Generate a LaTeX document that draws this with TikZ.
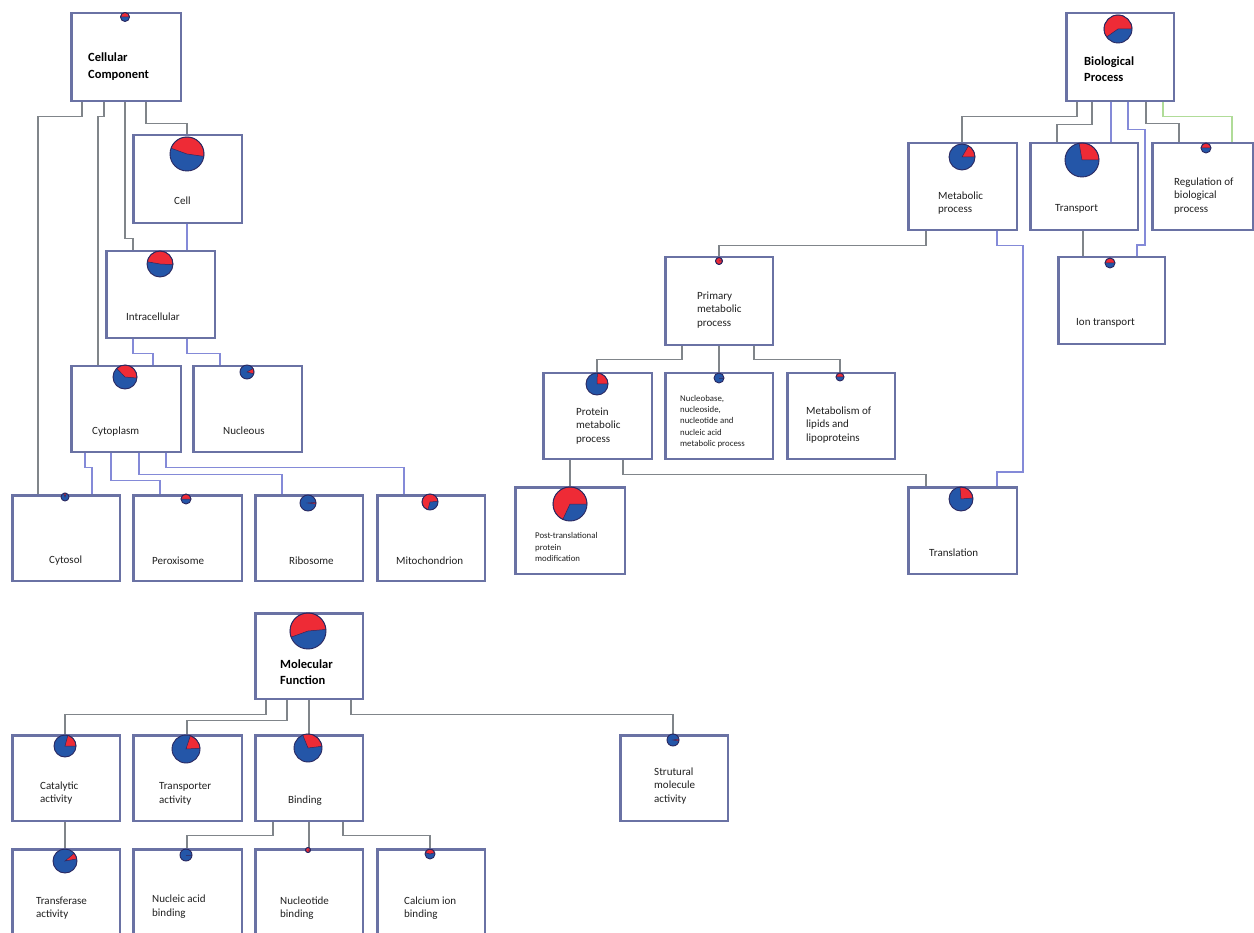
\documentclass[tikz,border=0pt]{standalone}
\usepackage{fontspec}
\setmainfont{Carlito}
\definecolor{piered}{HTML}{EE2B36}
\definecolor{pieblue}{HTML}{2456A8}
\definecolor{pieline}{HTML}{2A2860}
\definecolor{boxline}{HTML}{6A72A4}
\definecolor{grayline}{HTML}{80858A}
\definecolor{blueline}{HTML}{848AD8}
\definecolor{greenline}{HTML}{B0DC98}
\definecolor{txt}{HTML}{202020}
\newcommand\piec[5]{\begin{scope}[shift={(#1,#2)},yscale=-1]
\fill[pieblue] (0,0) circle[radius=#3];
\fill[piered,draw=pieline,line width=0.5pt] (0,0) -- (#4:#3) arc[start angle=#4,end angle=#5,radius=#3] -- cycle;
\draw[pieline,line width=0.9pt] (0,0) circle[radius=#3];
\end{scope}}
\tikzset{
  box/.style={draw=boxline,line width=1.5pt,fill=white,anchor=north west,inner sep=0pt},
  gl/.style={draw=grayline,line width=1.5pt},
  bl/.style={draw=blueline,line width=1.4pt},
  grl/.style={draw=greenline,line width=1.4pt},
  lbl/.style={anchor=west,align=left,inner sep=0pt,text=txt,font=\fontsize{11}{13.5}\selectfont},
  hdr/.style={anchor=west,align=left,inner sep=0pt,text=black,font=\fontsize{12.5}{16.5}\selectfont\bfseries},
  sml/.style={anchor=west,align=left,inner sep=0pt,text=txt,font=\fontsize{8.8}{11.3}\selectfont}
}
\begin{document}
\begin{tikzpicture}[x=1pt,y=-1pt]
\useasboundingbox (0,0) rectangle (1254,933);
\fill[white] (0,0) rectangle (1254,933);
% ---------- boxes ----------
\path
 node[box,minimum width=109pt,minimum height=87pt] (cc) at (71,13) {}
 node[box,minimum width=108pt,minimum height=87pt] (cell) at (133,135) {}
 node[box,minimum width=108pt,minimum height=86pt] (intra) at (106,251) {}
 node[box,minimum width=109pt,minimum height=85pt] (cyto) at (71,366) {}
 node[box,minimum width=108pt,minimum height=85pt] (nucl) at (193,366) {}
 node[box,minimum width=107pt,minimum height=85pt] (cytosol) at (12,495) {}
 node[box,minimum width=108pt,minimum height=85pt] (perox) at (133,495) {}
 node[box,minimum width=107pt,minimum height=85pt] (ribo) at (255,495) {}
 node[box,minimum width=107pt,minimum height=85pt] (mito) at (377,495) {}
 node[box,minimum width=107pt,minimum height=87pt] (bp) at (1066,13) {}
 node[box,minimum width=108pt,minimum height=86pt] (metab) at (908,143) {}
 node[box,minimum width=107pt,minimum height=86pt] (transp) at (1030,143) {}
 node[box,minimum width=100pt,minimum height=86pt] (reg) at (1152,143) {}
 node[box,minimum width=106pt,minimum height=86pt] (ion) at (1058,257) {}
 node[box,minimum width=107pt,minimum height=87pt] (primary) at (665,257) {}
 node[box,minimum width=108pt,minimum height=85pt] (protein) at (543,373) {}
 node[box,minimum width=107pt,minimum height=85pt] (nucleo) at (665,373) {}
 node[box,minimum width=107pt,minimum height=85pt] (lipid) at (787,373) {}
 node[box,minimum width=109pt,minimum height=86pt] (ptm) at (515,487) {}
 node[box,minimum width=108pt,minimum height=86pt] (transl) at (908,487) {}
 node[box,minimum width=107pt,minimum height=85pt] (mf) at (255,613) {}
 node[box,minimum width=107pt,minimum height=85pt] (cat) at (12,735) {}
 node[box,minimum width=108pt,minimum height=85pt] (trsp) at (133,735) {}
 node[box,minimum width=107pt,minimum height=85pt] (bind) at (255,735) {}
 node[box,minimum width=107pt,minimum height=85pt] (strut) at (620,735) {}
 node[box,minimum width=107pt,minimum height=96pt] (transf) at (12,849) {}
 node[box,minimum width=108pt,minimum height=96pt] (nucac) at (133,849) {}
 node[box,minimum width=107pt,minimum height=96pt] (nucleot) at (255,849) {}
 node[box,minimum width=107pt,minimum height=96pt] (calc) at (377,849) {};
% ---------- connectors ----------
\draw[gl] (cc.south -| 82,0) -- ++(0,15) -| (cytosol.north -| 38,0);
\draw[gl] (cc.south -| 104,0) -- ++(0,15) -| (cyto.north -| 98,0);
\draw[gl] (cc.south -| 125,0) -- ++(0,137) -| (intra.north -| 133,0);
\draw[gl] (cc.south -| 146,0) -- ++(0,22) -| (cell.north -| 187,0);
\draw[bl] (cell.south -| 187,0) -- (intra.north -| 187,0);
\draw[bl] (intra.south -| 133,0) -- ++(0,15) -| (cyto.north -| 153,0);
\draw[bl] (intra.south -| 187,0) -- ++(0,15) -| (nucl.north -| 220,0);
\draw[bl] (cyto.south -| 85,0) -- ++(0,15) -| (cytosol.north -| 92,0);
\draw[bl] (cyto.south -| 111,0) -- ++(0,28) -| (perox.north -| 160,0);
\draw[bl] (cyto.south -| 139,0) -- ++(0,22) -| (ribo.north -| 282,0);
\draw[bl] (cyto.south -| 166,0) -- ++(0,15) -| (mito.north -| 404,0);
\draw[gl] (bp.south -| 1077,0) -- ++(0,15) -| (metab.north -| 962,0);
\draw[gl] (bp.south -| 1092,0) -- ++(0,23) -| (transp.north -| 1057,0);
\draw[bl] (bp.south -| 1111,0) -- (transp.north -| 1111,0);
\draw[bl] (bp.south -| 1128,0) -- ++(0,28) -| (1145,245) -| (ion.north -| 1137,0);
\draw[gl] (bp.south -| 1146,0) -- ++(0,22) -| (reg.north -| 1179,0);
\draw[grl] (bp.south -| 1163,0) -- ++(0,15) -| (reg.north -| 1232,0);
\draw[gl] (transp.south -| 1083,0) -- (ion.north -| 1083,0);
\draw[gl] (metab.south -| 926,0) -- ++(0,15) -| (primary.north -| 719,0);
\draw[bl] (metab.south -| 997,0) -- ++(0,15) -| (1023,472) -| (transl.north -| 997,0);
\draw[gl] (primary.south -| 682,0) -- ++(0,14) -| (protein.north -| 597,0);
\draw[gl] (primary.south -| 719,0) -- (nucleo.north -| 719,0);
\draw[gl] (primary.south -| 754,0) -- ++(0,14) -| (lipid.north -| 840,0);
\draw[gl] (protein.south -| 570,0) -- (ptm.north -| 570,0);
\draw[gl] (protein.south -| 623,0) -- ++(0,15) -| (transl.north -| 926,0);
\draw[gl] (mf.south -| 266,0) -- ++(0,15) -| (cat.north -| 65,0);
\draw[gl] (mf.south -| 287,0) -- ++(0,21) -| (trsp.north -| 187,0);
\draw[gl] (mf.south -| 309,0) -- (bind.north -| 309,0);
\draw[gl] (mf.south -| 351,0) -- ++(0,15) -| (strut.north -| 673,0);
\draw[gl] (cat.south -| 65,0) -- (transf.north -| 65,0);
\draw[gl] (bind.south -| 273,0) -- ++(0,14) -| (nucac.north -| 187,0);
\draw[gl] (bind.south -| 309,0) -- (nucleot.north -| 309,0);
\draw[gl] (bind.south -| 343,0) -- ++(0,14) -| (calc.north -| 430,0);
\foreach \n in {cc,cell,intra,cyto,nucl,cytosol,perox,ribo,mito,bp,metab,transp,reg,ion,primary,protein,nucleo,lipid,ptm,transl,mf,cat,trsp,bind,strut,transf,nucac,nucleot,calc}
  \draw[boxline,line width=1.5pt] (\n.north west) rectangle (\n.south east);
% ---------- pies ----------
\piec{125}{17}{4.5}{0}{180}
\piec{187}{154}{17}{-8}{160}
\piec{160}{264}{13}{-3}{170}
\piec{125}{377}{12}{-5}{134}
\piec{247}{372}{7}{-15}{30}
\piec{65}{497}{4}{70}{110}
\piec{186}{499}{5}{0}{180}
\piec{308}{503}{8}{-8}{5}
\piec{430}{502}{8}{5}{255}
\piec{1118}{29}{14}{0}{215}
\piec{962}{157}{13}{0}{60}
\piec{1082}{160}{17}{0}{100}
\piec{1206}{148}{5}{0}{180}
\piec{1110}{263}{5}{0}{180}
\piec{719}{261}{3.5}{0}{360}
\piec{597}{384}{11}{0}{88}
\piec{719}{378}{5}{0}{0}
\piec{840}{377}{4}{0}{180}
\piec{570}{504}{17}{0}{245}
\piec{961}{499}{12}{5}{95}
\piec{308}{631}{18}{5}{200}
\piec{65}{746}{11}{0}{75}
\piec{186}{749}{14}{3}{72}
\piec{308}{748}{14}{7}{112}
\piec{673}{740}{6}{-10}{10}
\piec{65}{861}{12}{10}{40}
\piec{186}{855}{6}{0}{0}
\piec{308}{850}{2.5}{0}{360}
\piec{430}{854}{5}{15}{165}
% ---------- labels ----------
\node[hdr] (cc-t) at (88,66.5) {Cellular\\Component};
\node[lbl] (cell-t) at (174,201) {Cell};
\node[lbl] (intra-t) at (126,317) {Intracellular};
\node[lbl] (cyto-t) at (92,432) {Cytoplasm};
\node[lbl] (nucl-t) at (223,431) {Nucleous};
\node[lbl] (cytosol-t) at (49,561) {Cytosol};
\node[lbl] (perox-t) at (152,561) {Peroxisome};
\node[lbl] (ribo-t) at (289,561) {Ribosome};
\node[lbl] (mito-t) at (396,561) {Mitochondrion};
\node[hdr] (bp-t) at (1084,69) {Biological\\Process};
\node[lbl] (metab-t) at (938,203) {Metabolic\\process};
\node[lbl] (transp-t) at (1055,209) {Transport};
\node[lbl] (reg-t) at (1174,196) {Regulation of\\biological\\process};
\node[lbl] (ion-t) at (1076,323) {Ion transport};
\node[lbl] (primary-t) at (697,310) {Primary\\metabolic\\process};
\node[lbl] (protein-t) at (576,426) {Protein\\metabolic\\process};
\node[sml] (nucleo-t) at (680,421.5) {Nucleobase,\\nucleoside,\\nucleotide and\\nucleic acid\\metabolic process};
\node[lbl] (lipid-t) at (806,425) {Metabolism of\\lipids and\\lipoproteins};
\node[sml] (ptm-t) at (535,547) {Post-translational\\protein\\modification};
\node[lbl] (transl-t) at (929,553) {Translation};
\node[hdr] (mf-t) at (280,672) {Molecular\\Function};
\node[lbl] (cat-t) at (40,793) {Catalytic\\activity};
\node[lbl] (trsp-t) at (159,794) {Transporter\\activity};
\node[lbl] (bind-t) at (288,801) {Binding};
\node[lbl] (strut-t) at (654,786) {Strutural\\molecule\\activity};
\node[lbl] (transf-t) at (36,908) {Transferase\\activity};
\node[lbl] (nucac-t) at (152,906.5) {Nucleic acid\\binding};
\node[lbl] (nucleot-t) at (280,908) {Nucleotide\\binding};
\node[lbl] (calc-t) at (404,908) {Calcium ion\\binding};
\end{tikzpicture}
\end{document}
